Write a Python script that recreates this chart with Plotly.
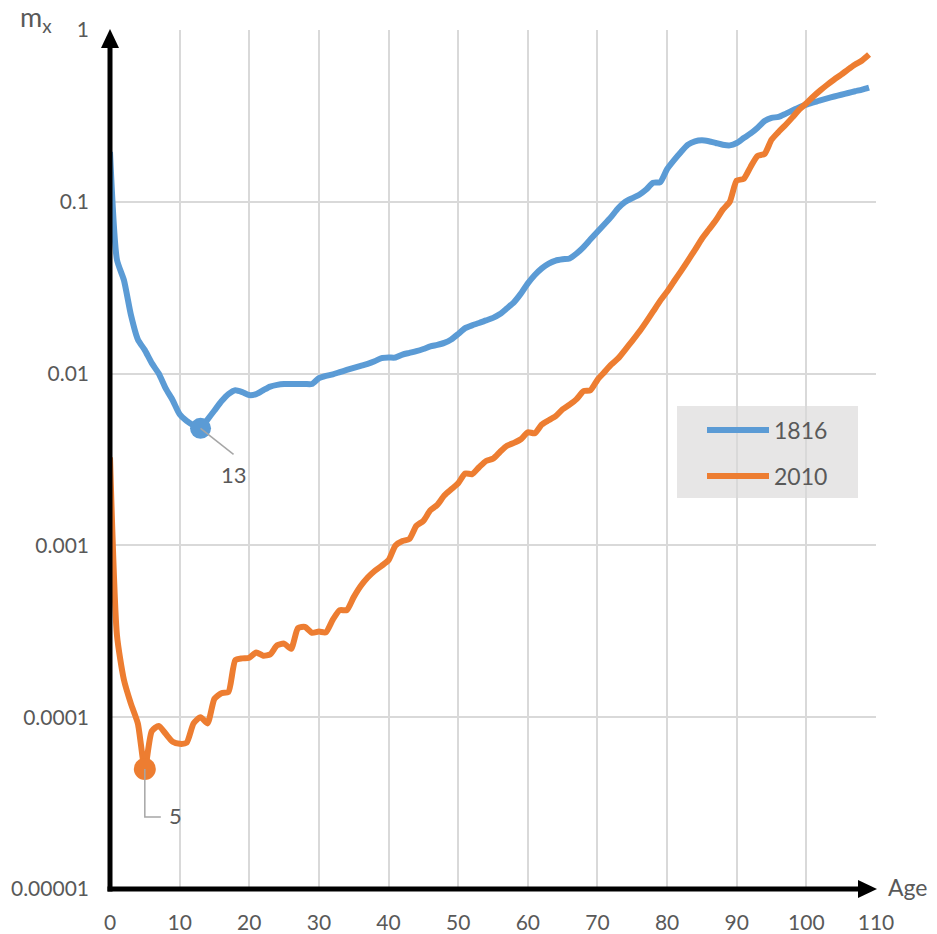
import math
import plotly.graph_objects as go

# ---------------- data ----------------
ages = list(range(0, 110))

mx_1816 = [
    0.195, 0.046, 0.035, 0.022, 0.0158, 0.0137, 0.0115, 0.0100, 0.0082, 0.0070,
    0.0058, 0.0053, 0.0050, 0.0048, 0.0054, 0.0061, 0.0069, 0.0076, 0.0080, 0.0078,
    0.0075, 0.0076, 0.0080, 0.0084, 0.0086, 0.0087, 0.0087, 0.0087, 0.0087, 0.0087,
    0.0094, 0.0097, 0.0099, 0.0102, 0.0105, 0.0108, 0.0111, 0.0114, 0.0118, 0.0123,
    0.0124, 0.0124, 0.0129, 0.0132, 0.0135, 0.0139, 0.0144, 0.0147, 0.0151, 0.0158,
    0.0170, 0.0184, 0.0191, 0.0197, 0.0204, 0.0211, 0.0222, 0.0240, 0.0260, 0.0292,
    0.0335, 0.0375, 0.0410, 0.0437, 0.0455, 0.0463, 0.0468, 0.0500, 0.0545, 0.0605,
    0.0670, 0.0740, 0.0820, 0.0920, 0.1000, 0.1050, 0.1100, 0.1180, 0.1290, 0.1300,
    0.1550, 0.1750, 0.1950, 0.2150, 0.2250, 0.2280, 0.2250, 0.2200, 0.2150, 0.2130,
    0.2200, 0.2350, 0.2500, 0.2700, 0.2950, 0.3080, 0.3120, 0.3250, 0.3400, 0.3550,
    0.3680, 0.3790, 0.3900, 0.4000, 0.4100, 0.4200, 0.4300, 0.4400, 0.4500, 0.4620,
]

mx_2010 = [
    0.00325, 0.00030, 0.000165, 0.000120, 0.000092, 0.000050, 0.000083, 0.000089, 0.000080, 0.000072,
    0.000070, 0.000071, 0.000092, 0.000100, 0.000092, 0.000128, 0.000138, 0.000140, 0.000215, 0.000220,
    0.000222, 0.000238, 0.000228, 0.000232, 0.000262, 0.000268, 0.000250, 0.000330, 0.000335, 0.000310,
    0.000315, 0.000312, 0.000370, 0.000420, 0.000420, 0.000500, 0.000580, 0.000650, 0.000710, 0.000760,
    0.000820, 0.001000, 0.001060, 0.001090, 0.001300, 0.001390, 0.001600, 0.001720, 0.001950, 0.002120,
    0.002300, 0.002620, 0.002600, 0.002850, 0.003100, 0.003200, 0.003500, 0.003800, 0.003950, 0.004150,
    0.004550, 0.004500, 0.005050, 0.005350, 0.005650, 0.006200, 0.006600, 0.007100, 0.007900, 0.008000,
    0.009200, 0.010200, 0.011300, 0.012300, 0.013800, 0.015500, 0.017500, 0.020000, 0.023000, 0.026500,
    0.030000, 0.034500, 0.039500, 0.045500, 0.052500, 0.061000, 0.069000, 0.078000, 0.090000, 0.100000,
    0.133000, 0.136000, 0.160000, 0.185000, 0.190000, 0.230000, 0.255000, 0.280000, 0.310000, 0.345000,
    0.375000, 0.410000, 0.445000, 0.480000, 0.515000, 0.550000, 0.590000, 0.630000, 0.665000, 0.720000,
]

series_names = ["1816", "2010"]
min_age_1816 = 13
min_age_2010 = 5

x_tickvals = list(range(0, 111, 10))
y_tickvals = [1e-5, 1e-4, 1e-3, 1e-2, 1e-1, 1]
y_ticktext = ["0.00001", "0.0001", "0.001", "0.01", "0.1", "1"]

# ---------------- style ----------------
W, H = 937, 934
ML, MT = 110, 30
PW, PH = 766, 859
MR, MB = W - ML - PW, H - MT - PH
BLUE = "#5b9bd5"
ORANGE = "#ed7d31"
TXT = "#595959"
GRID = "#d9d9d9"
FONT = "Lato, 'Open Sans', sans-serif"
AXW = 5
HEAD = 18
HALF = 9
LW = 6

# pixel helpers (positions of decorations, not data)
P_LEFT, P_TOP = ML, MT
P_RIGHT, P_BOT = P_LEFT + PW, P_TOP + PH


def px_x(p):
    return (p - P_LEFT) / PW


def px_y(p):
    return (P_BOT - p) / PH


fig = go.Figure()

fig.add_trace(go.Scatter(
    x=ages, y=mx_1816, name=series_names[0], mode="lines",
    line=dict(color=BLUE, width=LW, shape="spline", smoothing=0.6),
    showlegend=False,
))
fig.add_trace(go.Scatter(
    x=ages, y=mx_2010, name=series_names[1], mode="lines",
    line=dict(color=ORANGE, width=LW, shape="spline", smoothing=0.6),
    showlegend=False,
))
fig.add_trace(go.Scatter(
    x=[ages[min_age_1816]], y=[mx_1816[min_age_1816]], mode="markers",
    marker=dict(color=BLUE, size=21), showlegend=False,
))
fig.add_trace(go.Scatter(
    x=[ages[min_age_2010]], y=[mx_2010[min_age_2010]], mode="markers",
    marker=dict(color=ORANGE, size=22), showlegend=False,
))

shapes = []
# y axis line + arrow head
shapes.append(dict(type="line", xref="paper", yref="paper",
                   x0=0, x1=0, y0=px_y(P_BOT + AXW / 2), y1=px_y(P_TOP + HEAD - 1),
                   line=dict(color="black", width=AXW), layer="above"))
shapes.append(dict(type="path", xref="paper", yref="paper",
                   path=f"M {px_x(P_LEFT - HALF)} {px_y(P_TOP + HEAD)} L {px_x(P_LEFT + HALF)} {px_y(P_TOP + HEAD)} L {px_x(P_LEFT)} {px_y(P_TOP - 1)} Z",
                   fillcolor="black", line=dict(width=0), layer="above"))
# x axis line + arrow head
shapes.append(dict(type="line", xref="paper", yref="paper",
                   x0=px_x(P_LEFT - AXW / 2), x1=px_x(P_RIGHT - HEAD + 1), y0=0, y1=0,
                   line=dict(color="black", width=AXW), layer="above"))
shapes.append(dict(type="path", xref="paper", yref="paper",
                   path=f"M {px_x(P_RIGHT - HEAD)} {px_y(P_BOT - HALF)} L {px_x(P_RIGHT - HEAD)} {px_y(P_BOT + HALF)} L {px_x(P_RIGHT + 1)} {px_y(P_BOT)} Z",
                   fillcolor="black", line=dict(width=0), layer="above"))
# leader lines for data labels
shapes.append(dict(type="path", xref="x", yref="y", xsizemode="pixel", ysizemode="pixel",
                   xanchor=ages[min_age_1816], yanchor=mx_1816[min_age_1816],
                   path="M 0 0 L 33 -26", line=dict(color="#a6a6a6", width=1.5)))
shapes.append(dict(type="path", xref="x", yref="y", xsizemode="pixel", ysizemode="pixel",
                   xanchor=ages[min_age_2010], yanchor=mx_2010[min_age_2010],
                   path="M 0 0 L 0 -48 L 16 -48", line=dict(color="#a6a6a6", width=1.5)))

# legend (box, swatches)
LG_L, LG_R, LG_T, LG_B = 677, 858, 406, 498
LG_ROWS = [430, 476]
LG_COLORS = [BLUE, ORANGE]
shapes.append(dict(type="rect", xref="paper", yref="paper",
                   x0=px_x(LG_L), x1=px_x(LG_R), y0=px_y(LG_B), y1=px_y(LG_T),
                   fillcolor="#e7e6e6", line=dict(width=0), layer="between"))
for ry, col in zip(LG_ROWS, LG_COLORS):
    shapes.append(dict(type="line", xref="paper", yref="paper",
                       x0=px_x(707), x1=px_x(769), y0=px_y(ry), y1=px_y(ry),
                       line=dict(color=col, width=LW), layer="above"))

annotations = [
    dict(x=ages[min_age_1816], y=math.log10(mx_1816[min_age_1816]), xref="x", yref="y",
         text=str(ages[min_age_1816]), showarrow=False, xshift=33, yshift=-46,
         font=dict(family=FONT, size=22, color=TXT)),
    dict(x=ages[min_age_2010], y=math.log10(mx_2010[min_age_2010]), xref="x", yref="y",
         text=str(ages[min_age_2010]), showarrow=False, xshift=31, yshift=-47,
         font=dict(family=FONT, size=22, color=TXT)),
    dict(x=1, y=0, xref="paper", yref="paper", text="Age", showarrow=False,
         xanchor="left", yanchor="middle", xshift=10, yshift=2,
         font=dict(family=FONT, size=23, color=TXT)),
    dict(x=0, y=1, xref="paper", yref="paper", text="m<sub>x</sub>", showarrow=False,
         xanchor="center", yanchor="middle", xshift=-74, yshift=12,
         font=dict(family=FONT, size=27, color=TXT)),
]
for ry, name in zip(LG_ROWS, series_names):
    annotations.append(dict(x=px_x(772), y=px_y(ry), xref="paper", yref="paper",
                            text=name, showarrow=False, xanchor="left", yanchor="middle",
                            font=dict(family=FONT, size=23, color=TXT)))

fig.update_layout(
    width=W, height=H,
    margin=dict(l=ML, r=MR, t=MT, b=MB, autoexpand=False),
    paper_bgcolor="white", plot_bgcolor="white",
    font=dict(family=FONT, color=TXT, size=21),
    shapes=shapes, annotations=annotations,
    showlegend=False,
    xaxis=dict(range=[0, 110], tickvals=x_tickvals, showgrid=True, gridcolor=GRID, gridwidth=1.8,
               zeroline=False, showline=False, ticks="", ticklabelstandoff=19,
               tickfont=dict(family=FONT, size=21, color=TXT), fixedrange=True),
    yaxis=dict(type="log", range=[-5, 0], tickvals=y_tickvals, ticktext=y_ticktext,
               showgrid=True, gridcolor=GRID, gridwidth=1.8, zeroline=False, showline=False,
               ticks="", ticklabelstandoff=20,
               tickfont=dict(family=FONT, size=21, color=TXT), fixedrange=True),
)

fig.write_html("out.html",
               config={"displayModeBar": False, "staticPlot": False},
               post_script="document.body.style.margin='0px';document.body.style.overflow='hidden';")
